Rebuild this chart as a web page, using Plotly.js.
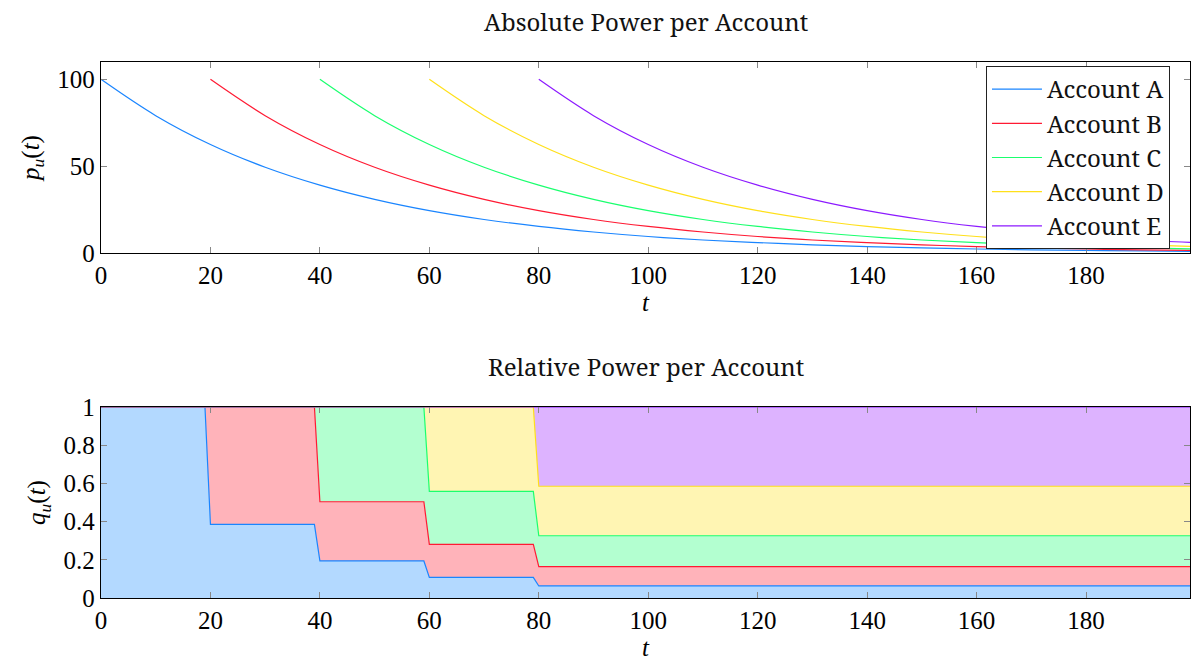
<!DOCTYPE html>
<html>
<head>
<meta charset="utf-8">
<script src="https://cdn.plot.ly/plotly-3.0.1.min.js"></script>
<style>html,body{margin:0;padding:0;background:#fff}#chart{width:1192px;height:663px}</style>
</head>
<body>
<div id="chart"></div>
<script>
// ---- data ----
const accounts = ["Account A", "Account B", "Account C", "Account D", "Account E"];
const lineColors = ["#1a85ff", "#ff1a33", "#1aff6e", "#ffe01a", "#8c1aff"];
const fillColors = ["#b3d9ff", "#ffb3ba", "#b3ffd0", "#fff5b3", "#ddb3ff"];

// absolute power p_u(t)
const tA = [0,10,20,30,40,50,60,70,80,90,100,110,120,130,140,150,160,170,180,190,199];
const pA = [100,79.1,62.5,49.4,39.1,30.9,24.4,19.3,15.3,12.1,9.5,7.5,6.0,4.7,3.7,2.9,2.3,1.8,1.5,1.2,0.9];
const tB = [20,30,40,50,60,70,80,90,100,110,120,130,140,150,160,170,180,190,199];
const pB = [100,79.1,62.5,49.4,39.1,30.9,24.4,19.3,15.3,12.1,9.5,7.5,6.0,4.7,3.7,2.9,2.3,1.8,1.5];
const tC = [40,50,60,70,80,90,100,110,120,130,140,150,160,170,180,190,199];
const pC = [100,79.1,62.5,49.4,39.1,30.9,24.4,19.3,15.3,12.1,9.5,7.5,6.0,4.7,3.7,2.9,2.4];
const tD = [60,70,80,90,100,110,120,130,140,150,160,170,180,190,199];
const pD = [100,79.1,62.5,49.4,39.1,30.9,24.4,19.3,15.3,12.1,9.5,7.5,6.0,4.7,3.8];
const tE = [80,90,100,110,120,130,140,150,160,170,180,190,199];
const pE = [100,79.1,62.5,49.4,39.1,30.9,24.4,19.3,15.3,12.1,9.5,7.5,6.1];

// relative power q_u(t) (stacked shares)
const tRel = [0,19,20,39,40,59,60,79,80,199];
const qA = [1,1,0.385,0.385,0.194,0.194,0.108,0.108,0.063,0.063];
const qB = [0,0,0.615,0.615,0.310,0.310,0.173,0.173,0.101,0.101];
const qC = [0,0,0,0,0.496,0.496,0.277,0.277,0.162,0.162];
const qD = [0,0,0,0,0,0,0.442,0.442,0.259,0.259];
const qE = [0,0,0,0,0,0,0,0,0.415,0.415];

const xTicks = [0,20,40,60,80,100,120,140,160,180];
const yTicksTop = [0,50,100];
const yTicksBot = [0,0.2,0.4,0.6,0.8,1];
const yTicksBotText = ["0","0.2","0.4","0.6","0.8","1"];

const titles = ["Absolute Power per Account", "Relative Power per Account"];

// ---- traces ----
const absT = [tA,tB,tC,tD,tE];
const absP = [pA,pB,pC,pD,pE];
const relQ = [qA,qB,qC,qD,qE];
const traces = [];
for (let i = 0; i < accounts.length; i++) {
  traces.push({
    x: absT[i], y: absP[i], name: accounts[i], type: "scatter", mode: "lines",
    line: {color: lineColors[i], width: 1.2, shape: "spline", smoothing: 1},
    xaxis: "x", yaxis: "y", hoverinfo: "skip"
  });
}
for (let i = 0; i < accounts.length; i++) {
  traces.push({
    x: tRel, y: relQ[i], name: accounts[i], type: "scatter", mode: "lines",
    stackgroup: "rel", fill: "tonexty", fillcolor: fillColors[i],
    line: {color: lineColors[i], width: 1.2},
    xaxis: "x2", yaxis: "y2", showlegend: false, hoverinfo: "skip"
  });
}

const mathFont = {family: "Liberation Serif", size: 25, color: "#000"};
const textFont = {family: "Noto Serif", size: 24, color: "#111"};
const H = 663;

function xax(anchor) {
  return {
    domain: [0,1], range: [0,199], anchor: anchor,
    tickvals: xTicks, ticks: "inside", ticklen: 6, tickcolor: "#888", tickwidth: 1,
    showline: true, linecolor: "#000", linewidth: 1.3, mirror: "allticks",
    showgrid: false, zeroline: false, tickfont: mathFont,
    title: {text: "<i>t</i>", font: mathFont, standoff: 4}
  };
}

const layout = {
  width: 1192, height: 663,
  margin: {l: 101, r: 2, t: 0, b: 0},
  paper_bgcolor: "#fff", plot_bgcolor: "#fff",
  showlegend: true,
  legend: {
    x: 0.9816, xanchor: "right", y: (H-66)/H, yanchor: "top", yref: "paper",
    bgcolor: "#fff", bordercolor: "#222", borderwidth: 1, traceorder: "normal",
    font: textFont, tracegroupgap: 0, itemwidth: 50
  },
  xaxis: xax("y"),
  yaxis: {
    domain: [1-253/H, 1-62/H], range: [0,110], anchor: "x",
    tickvals: yTicksTop, ticks: "inside", ticklen: 6, tickcolor: "#888",
    showline: true, linecolor: "#000", linewidth: 1.3, mirror: "allticks",
    showgrid: false, zeroline: false, tickfont: mathFont,
    title: {text: "<i>p<sub>u</sub></i>(<i>t</i>)", font: mathFont, standoff: 10}
  },
  xaxis2: xax("y2"),
  yaxis2: {
    domain: [1-598/H, 1-407/H], range: [0,1], anchor: "x2",
    tickvals: yTicksBot, ticktext: yTicksBotText, ticks: "inside", ticklen: 6, tickcolor: "#888",
    showline: true, linecolor: "#000", linewidth: 1.3, mirror: "allticks",
    showgrid: false, zeroline: false, tickfont: mathFont,
    title: {text: "<i>q<sub>u</sub></i>(<i>t</i>)", font: mathFont, standoff: 10}
  },
  annotations: [
    {text: titles[0], xref: "paper", yref: "paper", x: 0.5, y: (H-22)/H, xanchor: "center", yanchor: "middle", showarrow: false, font: textFont},
    {text: titles[1], xref: "paper", yref: "paper", x: 0.5, y: (H-366)/H, xanchor: "center", yanchor: "middle", showarrow: false, font: textFont}
  ]
};

Plotly.newPlot("chart", traces, layout, {staticPlot: true, displayModeBar: false});
</script>
</body>
</html>
